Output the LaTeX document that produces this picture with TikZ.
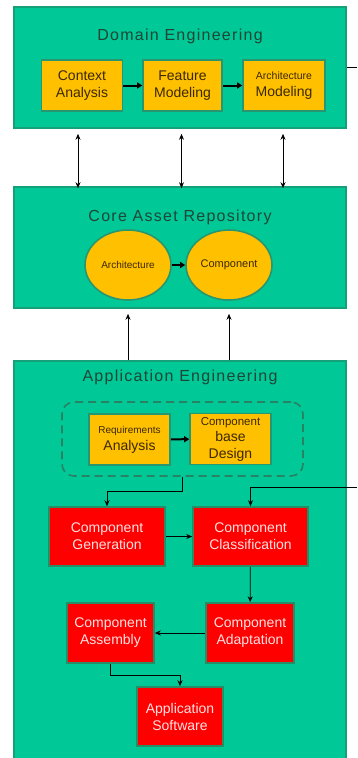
\documentclass[tikz,border=0pt]{standalone}
\usepackage{fontspec}
\setmainfont{Liberation Sans}
\newfontfamily\titlefont[LetterSpace=8]{Liberation Sans}
\usetikzlibrary{arrows.meta,shapes.geometric}
\definecolor{tealbg}{RGB}{0,200,150}
\definecolor{tealline}{RGB}{20,160,120}
\definecolor{dashline}{RGB}{40,130,100}
\definecolor{gold}{RGB}{255,192,0}
\definecolor{goldline}{RGB}{40,150,110}
\definecolor{redbox}{RGB}{255,0,0}
\definecolor{redline}{RGB}{40,140,100}
\definecolor{titletext}{RGB}{30,70,55}
\definecolor{goldtext}{RGB}{60,40,0}
\definecolor{redtext}{RGB}{255,225,225}
\tikzset{
  bigbox/.style={draw=tealline,fill=tealbg,line width=1.6pt,minimum width=332pt,inner sep=0pt},
  ttl/.style={font=\titlefont\fontsize{16}{19}\selectfont,text=titletext},
  goldbox/.style={draw=goldline,fill=gold,line width=1.6pt,minimum width=81pt,minimum height=51pt,inner sep=0pt,align=center,text=goldtext,font=\fontsize{14}{17}\selectfont},
  goldell/.style={ellipse,draw=goldline,fill=gold,line width=1.6pt,minimum width=86pt,minimum height=70pt,inner sep=0pt,text=goldtext},
  redbx/.style={draw=redline,fill=redbox,line width=1.6pt,inner sep=0pt,align=center,text=redtext,font=\fontsize{14}{17}\selectfont},
  thick arr/.style={-{Triangle[length=5pt,width=6pt]},line width=2pt,black},
  dbl/.style={{Stealth[length=6pt,width=5pt]}-{Stealth[length=6pt,width=5pt]},line width=0.8pt,black},
  arr/.style={-{Stealth[length=6pt,width=5pt]},line width=0.8pt,black},
}
\begin{document}
\begin{tikzpicture}[x=1pt,y=-1pt]
\useasboundingbox (0,0) rectangle (357,758);
% Domain Engineering
\node[bigbox,minimum height=121pt] (dom) at (180,67.5) {};
\node[ttl] (domt) at (180,36) {Domain Engineering};
\node[goldbox] (ca) at (82,85.5) {Context\\Analysis};
\node[goldbox,minimum width=79pt] (fm) at (182.5,85.5) {Feature\\Modeling};
\node[goldbox,minimum width=82pt] (am) at (284,85.5) {{\fontsize{10.5}{13}\selectfont Architecture}\\Modeling};
\draw[thick arr] (ca) -- (fm);
\draw[thick arr] (fm) -- (am);
\coordinate (r1) at (357,67);
\draw[line width=0.8pt] (dom.east |- r1) -- (r1);
% Core Asset Repository
\node[bigbox,minimum height=121pt] (core) at (180,247.5) {};
\node[ttl] (coret) at (180,217) {Core Asset Repository};
\node[goldell,font=\fontsize{10}{12}\selectfont] (arch) at (128,265) {Architecture};
\node[goldell,font=\fontsize{11}{13}\selectfont] (comp) at (229,265) {Component};
\draw[thick arr] (arch) -- (comp);
% double arrows
\draw[dbl] ([xshift=-4pt]ca.center |- dom.south) ++(0,5) -- ([xshift=-4pt,yshift=-2pt]ca.center |- core.north);
\draw[dbl] ([xshift=-1pt]fm.center |- dom.south) ++(0,5) -- ([xshift=-1pt,yshift=-2pt]fm.center |- core.north);
\draw[dbl] ([xshift=-1pt]am.center |- dom.south) ++(0,5) -- ([xshift=-1pt,yshift=-2pt]am.center |- core.north);
% Application Engineering
\node[bigbox,minimum height=400pt] (app) at (180,561) {};
\node[ttl] (appt) at (180,377) {Application Engineering};
\node[draw=dashline,line width=1.6pt,dash pattern=on 8pt off 5pt,rounded corners=12pt,minimum width=241pt,minimum height=74pt,inner sep=0pt] (dsh) at (182.5,439) {};
\node[goldbox] (req) at (129.5,439.5) {{\fontsize{10}{13}\selectfont Requirements}\\Analysis};
\node[goldbox,font=\fontsize{14}{16.5}\selectfont] (cbd) at (230.5,439) {{\fontsize{11.5}{14}\selectfont Component}\\base\\Design};
\draw[thick arr] (req) -- (cbd);
\node[redbx,minimum width=116pt,minimum height=59pt] (gen) at (107,536.5) {Component\\Generation};
\node[redbx,minimum width=115pt,minimum height=59pt] (cls) at (250.5,536.5) {Component\\Classification};
\node[redbx,minimum width=88pt,minimum height=60pt] (adp) at (250,633) {Component\\Adaptation};
\node[redbx,minimum width=87pt,minimum height=60pt] (asm) at (110.5,633) {Component\\Assembly};
\node[redbx,minimum width=86pt,minimum height=59pt] (sw) at (180,716.5) {Application\\Software};
% connectors
\draw[arr] (dsh.south) -- ++(0,15) -| (gen.north);
\coordinate (r2) at (357,487);
\draw[arr] (r2) -| (cls.north);
\draw[arr] (gen) -- (cls);
\draw[arr] (cls) -- (adp);
\draw[arr] (adp) -- (asm);
\draw[arr] (asm.south) -- ++(0,12) -| (sw.north);
\draw[arr] (arch.center |- app.north) -- ([yshift=-5pt]arch.center |- core.south);
\draw[arr] (comp.center |- app.north) -- ([yshift=-5pt]comp.center |- core.south);
\end{tikzpicture}
\end{document}
